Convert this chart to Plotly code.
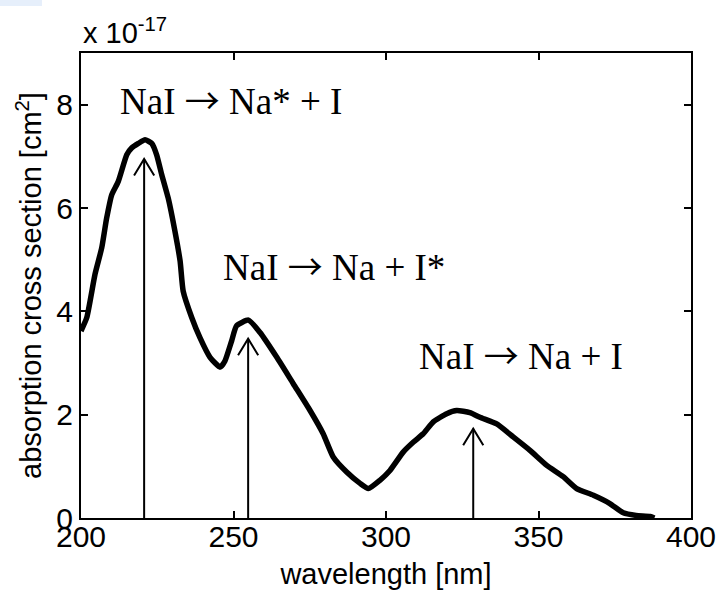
import plotly.graph_objects as go

# ---- data (cross section in units of 1e-17 cm^2) ----
wavelength = [200, 201.9, 204.6, 206.8, 208.4, 210.1, 212.2, 215, 216.6, 218.8, 221, 223.2,
              224.8, 226.5, 228.6, 230.8, 232.5, 233.5, 236.3, 239, 242.3, 245.6, 247.2, 249.4,
              251, 254.9, 258.7, 264.2, 269.6, 275.1, 279.4, 282.7, 287.1, 291.5, 294.2, 298,
              301.3, 305.7, 309, 312.2, 315.5, 319.9, 323.2, 327.5, 330.8, 336.3, 341.7, 347.2,
              352.7, 358.1, 362.5, 368, 373.4, 377.8, 382, 386.6, 388]
cross_section = [3.62, 3.88, 4.72, 5.23, 5.8, 6.26, 6.51, 7.03, 7.16, 7.25, 7.32, 7.25,
                 7.03, 6.64, 6.19, 5.55, 4.97, 4.39, 3.88, 3.49, 3.11, 2.92, 3.04, 3.43,
                 3.72, 3.83, 3.59, 3.11, 2.6, 2.08, 1.63, 1.18, 0.89, 0.67, 0.57, 0.73,
                 0.92, 1.28, 1.47, 1.63, 1.86, 2.02, 2.08, 2.04, 1.95, 1.82, 1.57, 1.31,
                 1.02, 0.8, 0.57, 0.44, 0.28, 0.1, 0.05, 0.03, 0.0]

arrow_x = [220.7, 254.8, 328.6]
arrow_tip = [6.95, 3.47, 1.73]

label_lhs = ["NaI", "NaI", "NaI"]
label_rhs = ["Na* + I", "Na + I*", "Na + I"]
label_x = [212.0, 245.8, 310.2]
label_y = [8.12, 4.91, 3.19]

x_ticks = [200, 250, 300, 350, 400]
y_ticks = [0, 2, 4, 6, 8]

SANS = "Liberation Sans, Arial, sans-serif"
SERIF = "Liberation Serif, Times New Roman, serif"

fig = go.Figure()

fig.add_trace(go.Scatter(x=wavelength, y=cross_section, mode="lines",
                         line=dict(color="black", width=5.5, shape="spline", smoothing=0.5),
                         showlegend=False, hoverinfo="skip"))

# arrows: shaft + open head
head_dx, head_dy = 3.3, 0.32
for ax_, tip in zip(arrow_x, arrow_tip):
    fig.add_trace(go.Scatter(x=[ax_, ax_, None, ax_ - head_dx, ax_, ax_ + head_dx],
                             y=[0, tip, None, tip - head_dy, tip, tip - head_dy],
                             mode="lines", line=dict(color="black", width=2),
                             showlegend=False, hoverinfo="skip"))

arrow_span = "<span style='font-family:Noto Sans CJK SC; font-size:35px'>\u2192</span>"
for lhs, rhs, lx, ly in zip(label_lhs, label_rhs, label_x, label_y):
    fig.add_annotation(x=lx, y=ly, text=f"{lhs} {arrow_span} {rhs}", showarrow=False,
                       xanchor="left", yanchor="middle",
                       font=dict(family=SERIF, size=37, color="black"))

fig.add_annotation(xref="paper", yref="paper", x=0, y=1, xanchor="left", yanchor="bottom",
                   yshift=2, text="x 10<sup>-17</sup>", showarrow=False,
                   font=dict(family=SANS, size=29, color="black"))

fig.add_shape(type="rect", xref="paper", yref="paper", x0=-0.133, x1=-0.064, y0=1.101, y1=1.12,
              fillcolor="#e6effb", line=dict(width=0), layer="below")

axis_common = dict(showline=True, linecolor="black", linewidth=2, mirror="ticks",
                   ticks="inside", ticklen=7, tickwidth=2, tickcolor="black",
                   showgrid=False, zeroline=False, automargin=False,
                   tickfont=dict(family=SANS, size=30, color="black"))

fig.update_xaxes(range=[200, 400], tickvals=x_ticks, ticklabelstandoff=-9,
                 title=dict(text="wavelength [nm]", standoff=12,
                            font=dict(family=SANS, size=29, color="black")),
                 **axis_common)
fig.update_yaxes(range=[0, 9], tickvals=y_ticks,
                 title=dict(text="absorption cross section [cm<sup>2</sup>]", standoff=6,
                            font=dict(family=SANS, size=29, color="black")),
                 **axis_common)

fig.update_layout(width=719, height=590, margin=dict(l=81, r=28, t=53, b=72),
                  plot_bgcolor="white", paper_bgcolor="white", showlegend=False)

fig.write_html("out.html")
